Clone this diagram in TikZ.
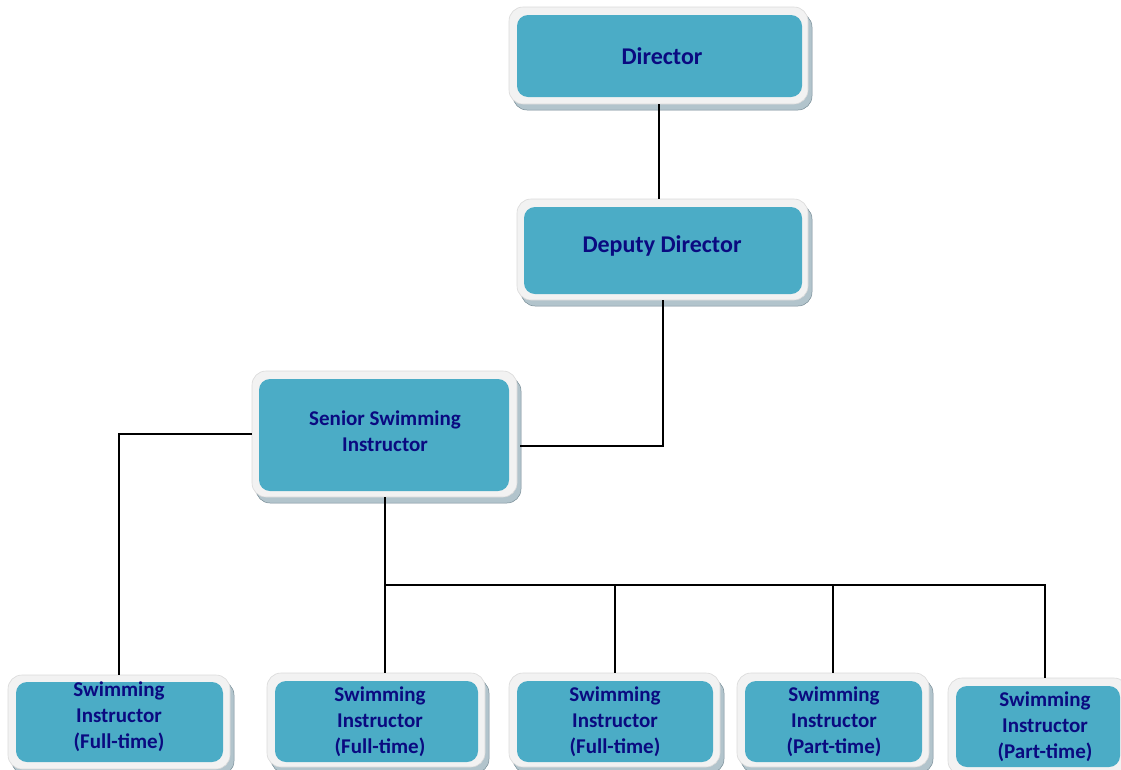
\documentclass[tikz,border=0pt]{standalone}
\usepackage{fontspec}
\setmainfont{Carlito}
\usetikzlibrary{shadows}
\definecolor{aqua}{RGB}{75,172,198}
\definecolor{navy}{RGB}{10,10,128}
\definecolor{cardedge}{RGB}{242,242,242}
\definecolor{shadowc}{RGB}{178,196,204}
\definecolor{shadowline}{RGB}{120,140,150}
\tikzset{
  outerbox/.style={rectangle, rounded corners=14pt, fill=cardedge, draw=gray!30, line width=0.6pt, inner sep=0pt,
    general shadow={shadow xshift=4pt, shadow yshift=-6pt, fill=shadowc, draw=shadowline, line width=0.5pt}},
  innerbox/.style={rectangle, rounded corners=11pt, fill=aqua, inner sep=0pt},
  label text/.style={text=navy, align=center, inner sep=0pt},
  bigtext/.style={label text, font=\bfseries\fontsize{24}{29}\selectfont},
  smalltext/.style={label text, font=\bfseries\fontsize{21}{26}\selectfont},
  link/.style={draw=black, line width=2pt}
}
\begin{document}
\begin{tikzpicture}[x=1pt,y=-1pt]
\useasboundingbox (0,0) rectangle (1121,769);
% Director
\node[outerbox, minimum width=299pt, minimum height=97pt] (dir) at (658.5,55.5) {};
\node[innerbox, minimum width=285pt, minimum height=82pt] (dirin) at (659.5,56) {};
\node[bigtext] (dirt) at (662,56) {Director};
% Deputy Director
\node[outerbox, minimum width=291pt, minimum height=101pt] (dep) at (662.5,249.5) {};
\node[innerbox, minimum width=278pt, minimum height=87pt] (depin) at (663,250.5) {};
\node[bigtext] (dept) at (662,246) {Deputy Director};
% Senior
\node[outerbox, minimum width=265pt, minimum height=126pt] (sen) at (384.5,434) {};
\node[innerbox, minimum width=250pt, minimum height=112pt] (senin) at (384,435) {};
\node[smalltext] (sent) at (385,431) {Senior Swimming\\Instructor};
% Bottom row
\node[outerbox, minimum width=222pt, minimum height=94pt] (b1) at (119,722) {};
\node[innerbox, minimum width=207pt, minimum height=80pt] (b1in) at (119.5,722) {};
\node[smalltext] (b1t) at (119,717) {Swimming\\Instructor\\(Full-time)};
\node[outerbox, minimum width=218pt, minimum height=94pt] (b2) at (376,720) {};
\node[innerbox, minimum width=203pt, minimum height=81pt] (b2in) at (376.5,721.5) {};
\node[smalltext] (b2t) at (380,721.5) {Swimming\\Instructor\\(Full-time)};
\node[outerbox, minimum width=211pt, minimum height=94pt] (b3) at (614.5,720) {};
\node[innerbox, minimum width=196pt, minimum height=81pt] (b3in) at (615,721.5) {};
\node[smalltext] (b3t) at (615,721.5) {Swimming\\Instructor\\(Full-time)};
\node[outerbox, minimum width=192pt, minimum height=94pt] (b4) at (833,720) {};
\node[innerbox, minimum width=177pt, minimum height=81pt] (b4in) at (833.5,721.5) {};
\node[smalltext] (b4t) at (834,721.5) {Swimming\\Instructor\\(Part-time)};
\node[outerbox, minimum width=180pt, minimum height=97pt] (b5) at (1038,726.5) {};
\node[innerbox, minimum width=164pt, minimum height=81pt] (b5in) at (1038,726.5) {};
\node[smalltext] (b5t) at (1045,726.5) {Swimming\\Instructor\\(Part-time)};
% connectors
\coordinate (bus) at (384.5,585);
\draw[link] (dir.south) -- (dir.south |- dep.north);
\draw[link] (dep.south) |- ([xshift=3pt,yshift=-12pt]sen.east);
\draw[link] (sen.west) -| (b1.north);
\draw[link] (sen.south) -- (sen.south |- b2.north);
\draw[link] (bus) -| ([xshift=7pt]b5.north);
\draw[link] (bus -| b3.north) -- (b3.north);
\draw[link] (bus -| b4.north) -- (b4.north);
\end{tikzpicture}
\end{document}
